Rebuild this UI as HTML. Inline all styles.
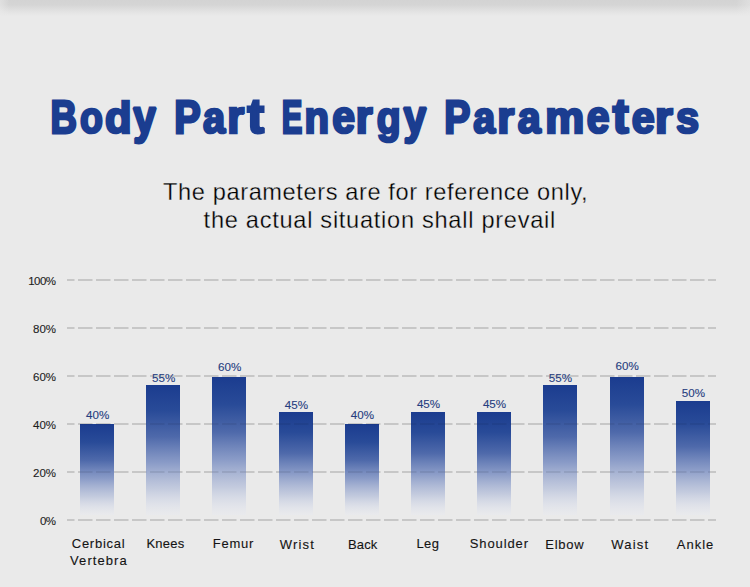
<!DOCTYPE html>
<html><head><meta charset="utf-8"><style>html,body{margin:0;padding:0;background:#eaeaea;width:750px;height:587px;overflow:hidden;font-family:"Liberation Sans",sans-serif}svg{display:block}</style></head><body>
<svg width="750" height="587" viewBox="0 0 750 587"><defs>
<linearGradient id="topg" x1="0" y1="0" x2="0" y2="1">
<stop offset="0" stop-color="#d3d3d3"/><stop offset="0.3" stop-color="#d5d5d5"/><stop offset="0.7" stop-color="#e2e2e2"/><stop offset="1" stop-color="#eaeaea"/>
</linearGradient>
<linearGradient id="barg" x1="0" y1="0" x2="0" y2="1">
<stop offset="0" stop-color="#1b3c8f" stop-opacity="1"/>
<stop offset="0.2" stop-color="#294b98" stop-opacity="1"/>
<stop offset="0.4" stop-color="#4864a8" stop-opacity="0.96"/>
<stop offset="0.6" stop-color="#7b8fc2" stop-opacity="0.86"/>
<stop offset="0.8" stop-color="#b0bbd8" stop-opacity="0.66"/>
<stop offset="1" stop-color="#e6e9f3" stop-opacity="0.25"/>
</linearGradient>
</defs>
<rect x="0" y="0" width="750" height="587" fill="#eaeaea"/>
<rect x="0" y="0" width="750" height="16" fill="url(#topg)"/>
<defs><linearGradient id="lstrip" x1="0" y1="0" x2="1" y2="0"><stop offset="0" stop-color="#eaeaea" stop-opacity="0.55"/><stop offset="1" stop-color="#eaeaea" stop-opacity="0"/></linearGradient><linearGradient id="rstrip" x1="1" y1="0" x2="0" y2="0"><stop offset="0" stop-color="#eaeaea" stop-opacity="0.5"/><stop offset="1" stop-color="#eaeaea" stop-opacity="0"/></linearGradient></defs>
<rect x="0" y="0" width="9" height="16" fill="url(#lstrip)"/>
<rect x="736" y="0" width="14" height="16" fill="url(#rstrip)"/>
<g font-family="Liberation Sans" font-weight="bold" font-size="46.8" fill="#1b3d90" stroke="#1b3d90" stroke-width="2.8" stroke-linejoin="miter" stroke-miterlimit="1.5"><text transform="translate(50.55,133.10) scale(0.7817,1.0001)">B</text><text transform="translate(79.96,133.15) scale(0.8005,0.9677)">o</text><text transform="translate(105.12,133.17) scale(0.9286,0.9534)">d</text><text transform="translate(133.30,133.12) scale(0.8685,0.9845)">y</text><text transform="translate(174.13,133.10) scale(0.8469,1.0001)">P</text><text transform="translate(203.12,133.15) scale(0.8503,0.9677)">a</text><text transform="translate(227.13,133.15) scale(0.9292,0.9677)">r</text><text transform="translate(247.57,133.06) scale(1.0556,1.0261)">t</text><text transform="translate(281.66,133.10) scale(0.6608,1.0001)">E</text><text transform="translate(304.55,133.15) scale(0.8583,0.9677)">n</text><text transform="translate(332.23,133.15) scale(0.8740,0.9677)">e</text><text transform="translate(355.84,133.15) scale(0.9234,0.9677)">r</text><text transform="translate(376.87,133.15) scale(0.8353,0.9677)">g</text><text transform="translate(403.60,133.12) scale(0.8720,0.9845)">y</text><text transform="translate(444.15,133.10) scale(0.8366,1.0001)">P</text><text transform="translate(473.32,133.15) scale(0.8431,0.9677)">a</text><text transform="translate(497.22,133.15) scale(0.9350,0.9677)">r</text><text transform="translate(517.73,133.15) scale(0.8828,0.9677)">a</text><text transform="translate(545.22,133.15) scale(0.9369,0.9677)">m</text><text transform="translate(586.63,133.15) scale(0.8740,0.9677)">e</text><text transform="translate(612.74,133.06) scale(1.0150,1.0261)">t</text><text transform="translate(631.82,133.15) scale(0.8819,0.9677)">e</text><text transform="translate(655.06,133.15) scale(0.9756,0.9677)">r</text><text transform="translate(676.08,133.15) scale(0.8867,0.9677)">s</text></g>
<text x="163.1" y="199.6" font-family="Liberation Sans" font-size="23.6" fill="#000" stroke="#eaeaea" stroke-width="0.3" textLength="424.49999999999994" lengthAdjust="spacing">The parameters are for reference only,</text>
<text x="203.60000000000002" y="228.4" font-family="Liberation Sans" font-size="23.6" fill="#000" stroke="#eaeaea" stroke-width="0.3" textLength="351.59999999999997" lengthAdjust="spacing">the actual situation shall prevail</text>
<line x1="67" y1="280" x2="716" y2="280" stroke="#000" stroke-opacity="0.09" stroke-width="2" stroke-dasharray="14.5 3.5" stroke-dashoffset="7"/>
<text x="56" y="284.5" text-anchor="end" font-family="Liberation Sans" font-size="11.5" fill="#1e1e1e" stroke="#1e1e1e" stroke-width="0.12" textLength="27.7" lengthAdjust="spacing">100%</text>
<line x1="67" y1="328" x2="716" y2="328" stroke="#000" stroke-opacity="0.09" stroke-width="2" stroke-dasharray="14.5 3.5" stroke-dashoffset="7"/>
<text x="56" y="332.5" text-anchor="end" font-family="Liberation Sans" font-size="11.5" fill="#1e1e1e" stroke="#1e1e1e" stroke-width="0.12" textLength="22.9" lengthAdjust="spacing">80%</text>
<line x1="67" y1="376" x2="716" y2="376" stroke="#000" stroke-opacity="0.09" stroke-width="2" stroke-dasharray="14.5 3.5" stroke-dashoffset="7"/>
<text x="56" y="380.5" text-anchor="end" font-family="Liberation Sans" font-size="11.5" fill="#1e1e1e" stroke="#1e1e1e" stroke-width="0.12" textLength="22.9" lengthAdjust="spacing">60%</text>
<line x1="67" y1="424" x2="716" y2="424" stroke="#000" stroke-opacity="0.09" stroke-width="2" stroke-dasharray="14.5 3.5" stroke-dashoffset="7"/>
<text x="56" y="428.5" text-anchor="end" font-family="Liberation Sans" font-size="11.5" fill="#1e1e1e" stroke="#1e1e1e" stroke-width="0.12" textLength="22.9" lengthAdjust="spacing">40%</text>
<line x1="67" y1="472" x2="716" y2="472" stroke="#000" stroke-opacity="0.09" stroke-width="2" stroke-dasharray="14.5 3.5" stroke-dashoffset="7"/>
<text x="56" y="476.5" text-anchor="end" font-family="Liberation Sans" font-size="11.5" fill="#1e1e1e" stroke="#1e1e1e" stroke-width="0.12" textLength="22.9" lengthAdjust="spacing">20%</text>
<line x1="67" y1="520" x2="716" y2="520" stroke="#000" stroke-opacity="0.09" stroke-width="2" stroke-dasharray="14.5 3.5" stroke-dashoffset="7"/>
<text x="56" y="524.5" text-anchor="end" font-family="Liberation Sans" font-size="11.5" fill="#1e1e1e" stroke="#1e1e1e" stroke-width="0.12" textLength="16.0" lengthAdjust="spacing">0%</text>
<rect x="80" y="424" width="34" height="91" fill="url(#barg)"/>
<rect x="146" y="385" width="34" height="130" fill="url(#barg)"/>
<rect x="212" y="377" width="34" height="138" fill="url(#barg)"/>
<rect x="279" y="412" width="34" height="103" fill="url(#barg)"/>
<rect x="345" y="424" width="34" height="91" fill="url(#barg)"/>
<rect x="411" y="412" width="34" height="103" fill="url(#barg)"/>
<rect x="477" y="412" width="34" height="103" fill="url(#barg)"/>
<rect x="543" y="385" width="34" height="130" fill="url(#barg)"/>
<rect x="610" y="377" width="34" height="138" fill="url(#barg)"/>
<rect x="676" y="401" width="34" height="114" fill="url(#barg)"/>
<line x1="67" y1="280" x2="716" y2="280" stroke="#000" stroke-opacity="0.06" stroke-width="2" stroke-dasharray="14.5 3.5" stroke-dashoffset="7"/>
<line x1="67" y1="328" x2="716" y2="328" stroke="#000" stroke-opacity="0.06" stroke-width="2" stroke-dasharray="14.5 3.5" stroke-dashoffset="7"/>
<line x1="67" y1="376" x2="716" y2="376" stroke="#000" stroke-opacity="0.06" stroke-width="2" stroke-dasharray="14.5 3.5" stroke-dashoffset="7"/>
<line x1="67" y1="424" x2="716" y2="424" stroke="#000" stroke-opacity="0.06" stroke-width="2" stroke-dasharray="14.5 3.5" stroke-dashoffset="7"/>
<line x1="67" y1="472" x2="716" y2="472" stroke="#000" stroke-opacity="0.06" stroke-width="2" stroke-dasharray="14.5 3.5" stroke-dashoffset="7"/>
<line x1="67" y1="520" x2="716" y2="520" stroke="#000" stroke-opacity="0.06" stroke-width="2" stroke-dasharray="14.5 3.5" stroke-dashoffset="7"/>
<text x="97.6" y="418.6" text-anchor="middle" font-family="Liberation Sans" font-size="11.6" fill="#263d80" stroke="#263d80" stroke-width="0.12">40%</text>
<text x="163.6" y="381.5" text-anchor="middle" font-family="Liberation Sans" font-size="11.6" fill="#263d80" stroke="#263d80" stroke-width="0.12">55%</text>
<text x="229.6" y="370.8" text-anchor="middle" font-family="Liberation Sans" font-size="11.6" fill="#263d80" stroke="#263d80" stroke-width="0.12">60%</text>
<text x="296.4" y="408.8" text-anchor="middle" font-family="Liberation Sans" font-size="11.6" fill="#263d80" stroke="#263d80" stroke-width="0.12">45%</text>
<text x="362.4" y="418.7" text-anchor="middle" font-family="Liberation Sans" font-size="11.6" fill="#263d80" stroke="#263d80" stroke-width="0.12">40%</text>
<text x="428.5" y="407.7" text-anchor="middle" font-family="Liberation Sans" font-size="11.6" fill="#263d80" stroke="#263d80" stroke-width="0.12">45%</text>
<text x="494.5" y="407.9" text-anchor="middle" font-family="Liberation Sans" font-size="11.6" fill="#263d80" stroke="#263d80" stroke-width="0.12">45%</text>
<text x="560.4" y="382.2" text-anchor="middle" font-family="Liberation Sans" font-size="11.6" fill="#263d80" stroke="#263d80" stroke-width="0.12">55%</text>
<text x="627.2" y="369.8" text-anchor="middle" font-family="Liberation Sans" font-size="11.6" fill="#263d80" stroke="#263d80" stroke-width="0.12">60%</text>
<text x="693.4" y="397.1" text-anchor="middle" font-family="Liberation Sans" font-size="11.6" fill="#263d80" stroke="#263d80" stroke-width="0.12">50%</text>
<text x="98.2" y="548.3" text-anchor="middle" font-family="Liberation Sans" font-size="13" fill="#141414" stroke="#141414" stroke-width="0.12" textLength="52.9" lengthAdjust="spacing">Cerbical</text>
<text x="98.4" y="564.8" text-anchor="middle" font-family="Liberation Sans" font-size="13" fill="#141414" stroke="#141414" stroke-width="0.12" textLength="56.7" lengthAdjust="spacing">Vertebra</text>
<text x="165.3" y="547.7" text-anchor="middle" font-family="Liberation Sans" font-size="13" fill="#141414" stroke="#141414" stroke-width="0.12" textLength="37.7" lengthAdjust="spacing">Knees</text>
<text x="233.0" y="547.7" text-anchor="middle" font-family="Liberation Sans" font-size="13" fill="#141414" stroke="#141414" stroke-width="0.12" textLength="40.5" lengthAdjust="spacing">Femur</text>
<text x="296.8" y="548.5" text-anchor="middle" font-family="Liberation Sans" font-size="13" fill="#141414" stroke="#141414" stroke-width="0.12" textLength="34.2" lengthAdjust="spacing">Wrist</text>
<text x="362.7" y="548.5" text-anchor="middle" font-family="Liberation Sans" font-size="13" fill="#141414" stroke="#141414" stroke-width="0.12" textLength="29.3" lengthAdjust="spacing">Back</text>
<text x="427.7" y="547.7" text-anchor="middle" font-family="Liberation Sans" font-size="13" fill="#141414" stroke="#141414" stroke-width="0.12" textLength="22.4" lengthAdjust="spacing">Leg</text>
<text x="498.9" y="548.3" text-anchor="middle" font-family="Liberation Sans" font-size="13" fill="#141414" stroke="#141414" stroke-width="0.12" textLength="58.3" lengthAdjust="spacing">Shoulder</text>
<text x="564.5" y="548.5" text-anchor="middle" font-family="Liberation Sans" font-size="13" fill="#141414" stroke="#141414" stroke-width="0.12" textLength="38.4" lengthAdjust="spacing">Elbow</text>
<text x="629.7" y="548.5" text-anchor="middle" font-family="Liberation Sans" font-size="13" fill="#141414" stroke="#141414" stroke-width="0.12" textLength="36.7" lengthAdjust="spacing">Waist</text>
<text x="695.0" y="548.5" text-anchor="middle" font-family="Liberation Sans" font-size="13" fill="#141414" stroke="#141414" stroke-width="0.12" textLength="36.5" lengthAdjust="spacing">Ankle</text></svg>
</body></html>
